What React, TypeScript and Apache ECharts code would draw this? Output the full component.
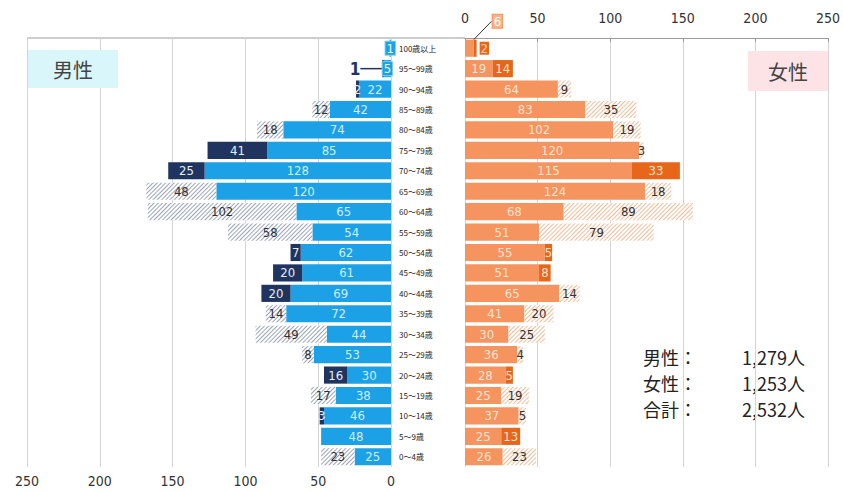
import React, { useEffect, useRef } from "react";
import * as echarts from "echarts";

const ages = ["100歳以上", "95～99歳", "90～94歳", "85～89歳", "80～84歳", "75～79歳", "70～74歳", "65～69歳", "60～64歳", "55～59歳", "50～54歳", "45～49歳", "40～44歳", "35～39歳", "30～34歳", "25～29歳", "20～24歳", "15～19歳", "10～14歳", "5～9歳", "0～4歳"];

const maleBase = [1, 5, 22, 42, 74, 85, 128, 120, 65, 54, 62, 61, 69, 72, 44, 53, 30, 38, 46, 48, 25];
const maleUp = [null, 1, 2, null, null, 41, 25, null, null, null, 7, 20, 20, null, null, null, 16, null, 3, null, null];
const maleDown = [null, null, null, 12, 18, null, null, 48, 102, 58, null, null, null, 14, 49, 8, null, 17, null, null, 23];

const femaleBase = [6, 19, 64, 83, 102, 120, 115, 124, 68, 51, 55, 51, 65, 41, 30, 36, 28, 25, 37, 25, 26];
const femaleUp = [2, 14, null, null, null, null, 33, null, null, null, 5, 8, null, null, null, null, 5, null, null, 13, null];
const femaleDown = [null, null, 9, 35, 19, 3, null, 18, 89, 79, null, null, 14, 20, 25, 4, null, 19, 5, null, 23];

const axisTicks = [0, 50, 100, 150, 200, 250];
const totalLabels = ["男性：", "女性：", "合計："];
const totalValues = ["1,279人", "1,253人", "2,532人"];

const NUM_FONT = "'Liberation Sans Narrow', 'DejaVu Sans Condensed', Roboto, sans-serif";
const CJK_FONT = "'Noto Sans CJK JP', 'Noto Sans', sans-serif";

const C_MALE = "#1da1e6";
const C_MALE_DARK = "#1f3560";
const C_FEMALE = "#f5945e";
const C_FEMALE_DARK = "#e8661a";

export default function App() {
  const ref = useRef<HTMLDivElement>(null);
  useEffect(() => {
    if (!ref.current) return;
    const chart = echarts.init(ref.current, null, { renderer: "svg" });
    const baseLabel = (color: string) => ({
      show: true,
      position: "inside",
      color,
      fontSize: 13,
      fontFamily: NUM_FONT,
    });
    const valAxis = {
      type: "value",
      min: axisTicks[0],
      max: axisTicks[axisTicks.length - 1],
      interval: axisTicks[1] - axisTicks[0],
      splitLine: { show: true, lineStyle: { color: "#d4d4d4", width: 1 } },
    };
    const maleBaseData = maleBase.map((v, i) => {
      if (i === 0 || i === 1) {
        return {
          value: v,
          label: {
            show: true,
            position: "inside",
            backgroundColor: C_MALE,
            borderColor: "#7fd0f5",
            borderWidth: 1,
            color: "#eaf8ff",
            padding: [0, 1],
            fontSize: 13,
          },
        };
      }
      return v;
    });
    const maleUpData = maleUp.map((v, i) => {
      if (i === 1) {
        return {
          value: v,
          label: {
            show: true,
            position: "inside",
            color: C_MALE_DARK,
            fontSize: 17,
            fontWeight: "bold",
          },
          labelLine: { show: true, length2: 0, lineStyle: { color: C_MALE_DARK, width: 1.5 } },
        };
      }
      return v;
    });
    const femaleBaseData = femaleBase.map((v, i) => {
      if (i === 0) {
        return {
          value: v,
          label: {
            show: true,
            position: "inside",
            backgroundColor: "#f8b58c",
            borderColor: "#f5945e",
            borderWidth: 1,
            color: "#fff",
            padding: [0, 1],
            fontSize: 13,
          },
          labelLine: { show: true, lineStyle: { color: "#333", width: 1 } },
        };
      }
      return v;
    });
    const femaleUpData = femaleUp.map((v, i) => {
      if (i === 0) {
        return {
          value: v,
          label: {
            show: true,
            position: "right",
            distance: 3,
            backgroundColor: C_FEMALE_DARK,
            color: "#f3d0b8",
            padding: [0, 1],
            fontSize: 13,
          },
        };
      }
      return v;
    });
    const hatch = (color: string) => ({
      color: "#ffffff",
      decal: {
        symbol: "rect",
        symbolSize: 1,
        dashArrayX: [[1, 0]],
        dashArrayY: [0.7, 1.7],
        rotation: -Math.PI / 4,
        color,
      },
    });

    const option = {
      animation: false,
      backgroundColor: "#fff",
      title: [
        {
          text: "男性",
          left: 28,
          top: 50,
          padding: [9, 25],
          backgroundColor: "#d9f6fa",
          textStyle: { fontSize: 20, fontWeight: "normal", color: "#444", fontFamily: CJK_FONT },
        },
        {
          text: "女性",
          left: 748,
          top: 51,
          padding: [10, 20],
          backgroundColor: "#fde3e6",
          textStyle: { fontSize: 20, fontWeight: "normal", color: "#444", fontFamily: CJK_FONT },
        },
      ],
      grid: [
        { left: 27, width: 364, top: 38, height: 429, containLabel: false },
        { left: 465, width: 363, top: 38, height: 429, containLabel: false },
      ],
      xAxis: [
        {
          ...valAxis,
          gridIndex: 0,
          inverse: true,
          position: "bottom",
          axisLine: { show: false },
          axisTick: { show: false },
          axisLabel: { fontSize: 14, color: "#333", margin: 7, fontFamily: NUM_FONT },
        },
        {
          ...valAxis,
          gridIndex: 1,
          position: "top",
          axisLine: { show: true, lineStyle: { color: "#9a9a9a" } },
          axisTick: { show: true, inside: true, length: 4, lineStyle: { color: "#9a9a9a" } },
          axisLabel: { fontSize: 14, color: "#333", margin: 13, fontFamily: NUM_FONT },
        },
      ],
      yAxis: [
        {
          type: "category",
          gridIndex: 0,
          inverse: true,
          data: ages,
          axisLine: { show: false },
          axisTick: { show: false },
          axisLabel: { show: false },
        },
        {
          type: "category",
          gridIndex: 1,
          inverse: true,
          data: ages,
          axisLine: { show: false },
          axisTick: { show: false },
          axisLabel: { show: true, align: "left", margin: 66, fontSize: 8, color: "#222", fontFamily: CJK_FONT },
        },
      ],
      graphic: [
        {
          type: "line",
          shape: { x1: 27, y1: 38, x2: 465, y2: 38 },
          style: { stroke: "#9a9a9a", lineWidth: 1 },
          silent: true,
        },
        {
          type: "group",
          left: 643,
          top: 348,
          children: totalLabels.map((t, i) => ({
            type: "text",
            x: 0,
            y: i * 26,
            style: { text: t, font: `18px ${CJK_FONT}`, fill: "#222" },
          })),
        },
        {
          type: "group",
          right: 38,
          top: 348,
          children: totalValues.map((t, i) => ({
            type: "text",
            x: 0,
            y: i * 26,
            style: { text: t, font: `18px ${CJK_FONT}`, fill: "#222", align: "right" },
          })),
        },
      ],
      series: [
        {
          type: "bar",
          name: "男性",
          xAxisIndex: 0,
          yAxisIndex: 0,
          stack: "m",
          barCategoryGap: "16%",
          data: maleBaseData,
          itemStyle: { color: C_MALE },
          label: baseLabel("#cdeeff"),
        },
        {
          type: "bar",
          name: "男性増",
          xAxisIndex: 0,
          yAxisIndex: 0,
          stack: "m",
          barCategoryGap: "16%",
          data: maleUpData,
          itemStyle: { color: C_MALE_DARK },
          label: baseLabel("#e8eef8"),
          labelLayout: (p: any) => (p.dataIndex === 1 ? { dx: -28, dy: 0 } : {}),
        },
        {
          type: "bar",
          name: "男性減",
          xAxisIndex: 0,
          yAxisIndex: 0,
          stack: "m",
          barCategoryGap: "16%",
          data: maleDown,
          itemStyle: hatch("#9aa4b8"),
          label: baseLabel("#333"),
        },
        {
          type: "bar",
          name: "女性",
          xAxisIndex: 1,
          yAxisIndex: 1,
          stack: "f",
          barCategoryGap: "16%",
          data: femaleBaseData,
          itemStyle: { color: C_FEMALE },
          label: baseLabel("#fde2cf"),
          labelLayout: (p: any) => (p.dataIndex === 0 ? { dx: 28, dy: -27 } : {}),
        },
        {
          type: "bar",
          name: "女性増",
          xAxisIndex: 1,
          yAxisIndex: 1,
          stack: "f",
          barCategoryGap: "16%",
          data: femaleUpData,
          itemStyle: { color: C_FEMALE_DARK },
          label: baseLabel("#fbe3d3"),
        },
        {
          type: "bar",
          name: "女性減",
          xAxisIndex: 1,
          yAxisIndex: 1,
          stack: "f",
          barCategoryGap: "16%",
          data: femaleDown,
          itemStyle: hatch("#f4bc98"),
          label: baseLabel("#333"),
        },
      ],
    };
    chart.setOption(option as any);
    return () => chart.dispose();
  }, []);
  return <div ref={ref} style={{ position: "absolute", left: 0, top: 0, width: 843, height: 492 }} />;
}
